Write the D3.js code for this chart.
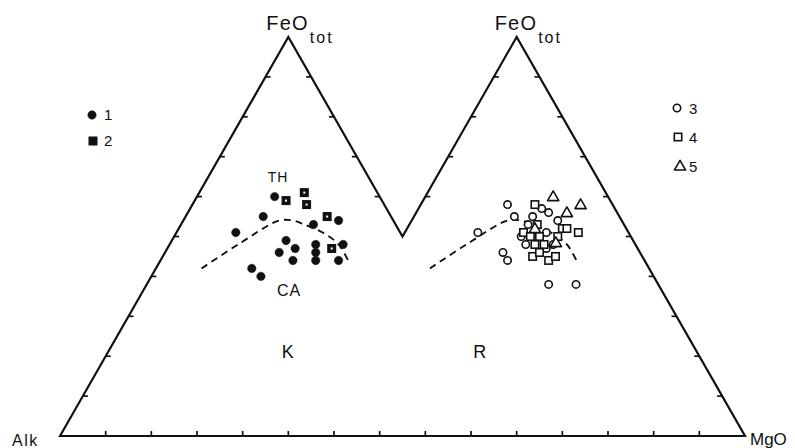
<!DOCTYPE html>
<html>
<head>
<meta charset="utf-8">
<script src="https://cdn.jsdelivr.net/npm/d3@7"></script>
<style>
  html, body { margin: 0; padding: 0; background: #fff; }
  svg { display: block; font-family: "Liberation Sans", Arial, sans-serif; }
</style>
</head>
<body>
<svg id="chart" width="795" height="448"></svg>
<script>
// AFM compositions, as [Alk, FeOtot, MgO] in %
const group1 = [ // K, filled circles
    [23, 60, 17], [28, 55, 17], [36, 51, 13], [26, 49, 25], [29, 46, 25],
    [25, 47, 28], [27, 44, 29], [37, 42, 21], [36, 40, 24], [18, 53, 29],
    [20, 48, 32], [21, 46, 33], [22, 44, 34], [12, 54, 34], [14, 48, 38],
    [17, 44, 39]
]
const group2 = [ // K, filled squares
    [21, 59, 20], [16, 61, 23], [17, 58, 25], [14, 55, 31], [17, 47, 36]
]
const group3 = [ // R, open circles
    [23, 58, 19], [23, 55, 22], [33, 51, 16], [30, 46, 24], [30, 44, 26],
    [24, 38, 38], [18, 38, 44], [16, 57, 27], [15, 56, 29], [14, 54, 32],
    [19, 55, 26], [21, 53, 26], [24, 50, 26], [24, 48, 28], [18, 51, 31],
    [18, 48, 34], [20, 47, 33]
]
const group4 = [ // R, open squares
    [17, 58, 25], [14, 52, 34], [13, 52, 35], [11, 51, 38], [23, 51, 26],
    [22, 50, 28], [20, 50, 30], [22, 48, 30], [20, 48, 32], [16, 50, 34],
    [24, 45, 31], [22, 46, 32], [21, 44, 35], [19, 45, 36], [19, 53, 28]
]
const group5 = [ // R, open triangles
    [12, 60, 28], [7, 58, 35], [11, 56, 33], [20, 52, 28], [17, 48, 34]
]
// tholeiitic / calc-alkaline boundary
const boundary = [
    [48, 42, 10], [37, 48, 15], [25, 54, 21], [22, 54, 24], [20, 53, 27],
    [17, 51, 32], [15, 48, 37], [15, 43, 42]
]
const tickSteps = [0.1, 0.2, 0.3, 0.4, 0.5, 0.6, 0.7, 0.8, 0.9]
const cornerLabels = ["Alk", "FeO", "MgO"]
const legendLeft = ["1", "2"]
const legendRight = ["3", "4", "5"]

const svg = d3.select("#chart")
const h = Math.sqrt(3) / 2

const x = d3.scaleLinear().domain([0, 1.5]).range([60, 745])
const y = d3.scaleLinear().domain([0, h]).range([436, 37])

// ternary -> screen, off = 0 for triangle K, 0.5 for triangle R
const pos = (d, off) => {
    const s = d[0] + d[1] + d[2]
    const f = d[1] / s, m = d[2] / s
    return [x(off + m + f / 2), y(f * h)]
}

// outline of the double triangle
const outline = [[0, 0], [0.5, h], [0.75, h / 2], [1, h], [1.5, 0]]
svg.append("path")
    .attr("d", d3.line().x(d => x(d[0])).y(d => y(d[1]))(outline) + "Z")
    .attr("fill", "none")
    .attr("stroke", "#111")
    .attr("stroke-width", 2.2)
    .attr("stroke-linejoin", "miter")

// ticks
const ticks = svg.append("g").attr("stroke", "#111").attr("stroke-width", 1.7)
d3.range(1, 15).forEach(i => {
    ticks.append("line")
        .attr("x1", x(i / 10)).attr("x2", x(i / 10))
        .attr("y1", y(0)).attr("y2", y(0) - 5)
})
const sideTick = (ux, f, dir) => {
    ticks.append("line")
        .attr("x1", x(ux)).attr("x2", x(ux) + dir * 5)
        .attr("y1", y(f * h)).attr("y2", y(f * h))
}
tickSteps.forEach(f => {
    sideTick(f / 2, f, 1)
    sideTick(1.5 - f / 2, f, -1)
    if (f > 0.5) {
        sideTick(1 - f / 2, f, -1)
        sideTick(0.5 + f / 2, f, 1)
    }
})

// dashed boundary in both triangles
const curve = d3.line().curve(d3.curveCatmullRom.alpha(0.5))
;[0, 0.5].forEach(off => {
    svg.append("path")
        .attr("d", curve(boundary.map(d => pos(d, off))))
        .attr("fill", "none")
        .attr("stroke", "#111")
        .attr("stroke-width", 1.9)
        .attr("stroke-dasharray", "7,5")
})

// markers
const drawCircle = (g, p, filled) => g.append("circle")
    .attr("cx", p[0]).attr("cy", p[1]).attr("r", filled ? 4.2 : 3.7)
    .attr("fill", filled ? "#111" : "#fff")
    .attr("stroke", "#111").attr("stroke-width", filled ? 0.5 : 1.6)

const drawSquare = (g, p, filled) => {
    g.append("rect")
        .attr("x", p[0] - 3.7).attr("y", p[1] - 3.7)
        .attr("width", 7.4).attr("height", 7.4)
        .attr("fill", filled ? "#111" : "#fff")
        .attr("stroke", "#111").attr("stroke-width", 1.6)
}

const drawTriangle = (g, p) => g.append("path")
    .attr("transform", `translate(${p[0]},${p[1] + 0.8})`)
    .attr("d", d3.symbol().type(d3.symbolTriangle).size(55)())
    .attr("fill", "#fff")
    .attr("stroke", "#111").attr("stroke-width", 1.6)
    .attr("stroke-linejoin", "round")

const marks = svg.append("g")
group1.forEach(d => drawCircle(marks, pos(d, 0), true))
group2.forEach(d => {
    const p = pos(d, 0)
    drawSquare(marks, p, true)
    marks.append("rect").attr("x", p[0] - 1).attr("y", p[1] - 1)
        .attr("width", 2).attr("height", 2).attr("fill", "#fff")
})
group3.forEach(d => drawCircle(marks, pos(d, 0.5), false))
group4.forEach(d => drawSquare(marks, pos(d, 0.5), false))
group5.forEach(d => drawTriangle(marks, pos(d, 0.5)))

// legends
const leg = svg.append("g").attr("font-size", 15).attr("fill", "#111")
drawCircle(leg, [92, 115], true)
drawSquare(leg, [93, 141], true)
legendLeft.forEach((t, i) => leg.append("text")
    .attr("x", 104).attr("y", 120 + i * 26).text(t))

drawCircle(leg, [677, 108], false)
drawSquare(leg, [678, 137], false)
drawTriangle(leg, [680, 166])
legendRight.forEach((t, i) => leg.append("text")
    .attr("x", 689).attr("y", 114 + i * 29).text(t))

// labels
const lab = svg.append("g").attr("fill", "#111")
lab.append("text").attr("x", 12).attr("y", 446)
    .attr("font-size", 16).attr("letter-spacing", 1.5).text(cornerLabels[0])
lab.append("text").attr("x", 750).attr("y", 445)
    .attr("font-size", 17).text(cornerLabels[2])

;[x(0.5), x(1)].forEach(cx => {
    const t = lab.append("text").attr("x", cx - 22).attr("y", 30)
        .attr("font-size", 20).attr("letter-spacing", 1.2)
    t.append("tspan").text(cornerLabels[1])
    t.append("tspan").attr("dx", 1).attr("dy", 13)
        .attr("font-size", 16).attr("letter-spacing", 2).text("tot")
})

const inner = [
    ["TH", 278, 182, 14],
    ["CA", 289, 296, 16],
    ["K", x(0.5), 358, 18],
    ["R", x(0.92), 358, 18]
]
inner.forEach(([t, px, py, fs]) => lab.append("text")
    .attr("x", px).attr("y", py).attr("font-size", fs)
    .attr("text-anchor", "middle").attr("letter-spacing", 1).text(t))
</script>
</body>
</html>
